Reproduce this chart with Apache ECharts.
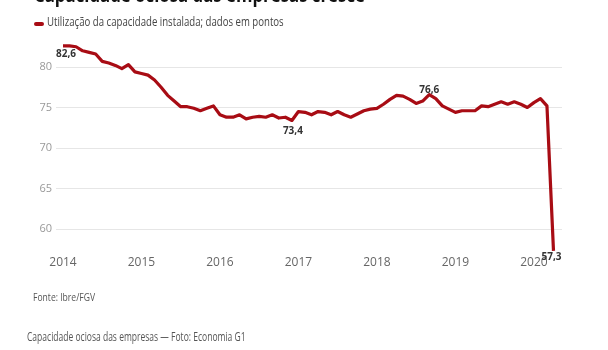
<!DOCTYPE html>
<html>
<head>
<meta charset="utf-8">
<script src="https://cdn.jsdelivr.net/npm/echarts@6/dist/echarts.min.js"></script>
<style>
  html, body { margin: 0; padding: 0; background: #fff; }
  #chart { width: 608px; height: 350px; }
</style>
</head>
<body>
<div id="chart"></div>
<script>
// monthly values, Jan 2014 .. Apr 2020
const seriesName = "Utilização da capacidade instalada; dados em pontos";
const yearLabels = ["2014", "2015", "2016", "2017", "2018", "2019", "2020"];
const nuci = [
  82.6, 82.6, 82.5, 82.0, 81.8, 81.6, 80.7, 80.5, 80.2, 79.8, 80.3, 79.4, // 2014
  79.2, 79.0, 78.4, 77.5, 76.5, 75.8, 75.1, 75.1, 74.9, 74.6, 74.9, 75.2, // 2015
  74.1, 73.8, 73.8, 74.1, 73.6, 73.8, 73.9, 73.8, 74.1, 73.7, 73.8, 73.4, // 2016
  74.5, 74.4, 74.1, 74.5, 74.4, 74.1, 74.5, 74.1, 73.8, 74.2, 74.6, 74.8, // 2017
  74.9, 75.4, 76.0, 76.5, 76.4, 76.0, 75.5, 75.8, 76.6, 76.1, 75.2, 74.8, // 2018
  74.4, 74.6, 74.6, 74.6, 75.2, 75.1, 75.4, 75.7, 75.4, 75.7, 75.4, 75.0, // 2019
  75.6, 76.1, 75.2, 57.3                                                  // 2020
];
const highlighted = [0, 35, 56, 75];

const FONT = "'Open Sans', sans-serif";
const RED = "#a80c14";

const chart = echarts.init(document.getElementById("chart"));

// label placement per highlighted point
const labelPos = {
  0: { position: "bottom", offset: [3, -2] },
  35: { position: "bottom", offset: [1, 1] },
  56: { position: "top", offset: [0, 6] },
  75: { position: "bottom", offset: [-2, -4] },
};

const seriesData = nuci.map((v, i) => {
  if (!highlighted.includes(i)) return [i, v];
  return {
    value: [i, v],
    label: {
      show: true,
      formatter: v.toFixed(1).replace(".", ","),
      ...labelPos[i],
    },
  };
});

chart.setOption({
  animation: false,
  textStyle: { fontFamily: FONT },
  grid: { left: 56, right: 46, top: 67, bottom: 121 },
  graphic: [
    {
      type: "text",
      left: 34,
      top: -14,
      scaleX: 0.8,
      style: {
        text: "Capacidade ociosa das empresas cresce",
        font: "bold 21px " + FONT,
        fill: "#111",
      },
    },
    // legend key
    {
      type: "rect",
      left: 34,
      top: 22,
      shape: { width: 10, height: 4, r: 2 },
      style: { fill: RED },
    },
    {
      type: "text",
      left: 47,
      top: 16,
      scaleX: 0.74,
      style: { text: seriesName, font: "13px " + FONT, fill: "#444" },
    },
    {
      type: "text",
      left: 33,
      top: 292,
      scaleX: 0.78,
      style: { text: "Fonte: Ibre/FGV", font: "11px " + FONT, fill: "#555" },
    },
    {
      type: "text",
      left: 27,
      top: 332,
      scaleX: 0.71,
      style: {
        text: "Capacidade ociosa das empresas — Foto: Economia G1",
        font: "12px " + FONT,
        fill: "#555",
      },
    },
  ],
  xAxis: {
    type: "value",
    min: -1.07,
    max: 76.3,
    axisLine: { show: false },
    axisTick: { show: false },
    splitLine: { show: false },
    axisLabel: {
      customValues: yearLabels.map((_, i) => i * 12),
      formatter: (v) => yearLabels[Math.round(v / 12)] || "",
      color: "#666",
      fontSize: 12,
      margin: 28,
    },
  },
  yAxis: {
    type: "value",
    min: 60,
    max: 80,
    interval: 5,
    axisLine: { show: false },
    axisTick: { show: false },
    axisLabel: { color: "#999", fontSize: 11, margin: 4 },
    splitLine: { lineStyle: { color: "#e6e6e6", width: 1 } },
  },
  series: [
    {
      name: seriesName,
      type: "line",
      clip: false,
      data: seriesData,
      symbol: "circle",
      symbolSize: 0,
      showSymbol: true,
      itemStyle: { color: RED },
      lineStyle: { color: RED, width: 3.2, join: "round" },
      label: {
        show: false,
        color: "#333",
        fontWeight: "bold",
        fontSize: 10,
        fontFamily: FONT,
        distance: 5,
      },
      emphasis: { disabled: true },
    },
  ],
});
</script>
</body>
</html>
